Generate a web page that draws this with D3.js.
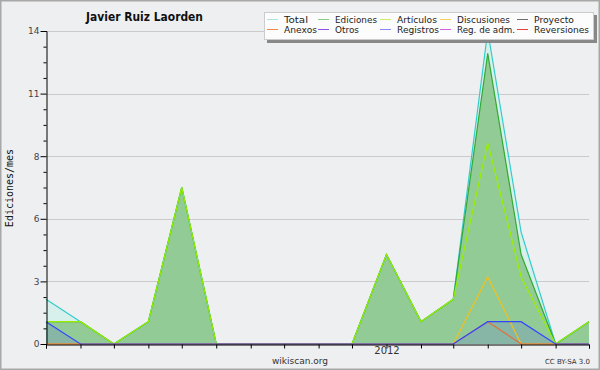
<!DOCTYPE html>
<html>
<head>
<meta charset="utf-8">
<script src="https://d3js.org/d3.v7.min.js"></script>
<style>
  body { margin: 0; background: #fff; }
  text { font-family: "DejaVu Sans", sans-serif; }
</style>
</head>
<body>
<script>
// months Mar 2011 .. Jul 2012
const months = d3.range(17).map(i => new Date(2011, 2 + i, 1));
const total       = [2, 1, 0, 1, 7, 0, 0, 0, 0, 0, 4, 1, 2, 14, 5, 0, 1];
const ediciones   = [1, 1, 0, 1, 7, 0, 0, 0, 0, 0, 4, 1, 2, 13, 4, 0, 1];
const articulos   = [1, 1, 0, 1, 7, 0, 0, 0, 0, 0, 4, 1, 2, 9, 3, 0, 1];
const discusiones = [0, 0, 0, 0, 0, 0, 0, 0, 0, 0, 0, 0, 0, 3, 0, 0, 0];
const anexos      = [0, 0, 0, 0, 0, 0, 0, 0, 0, 0, 0, 0, 0, 1, 0, 0, 0];
const registros   = [1, 0, 0, 0, 0, 0, 0, 0, 0, 0, 0, 0, 0, 1, 1, 0, 0];

const legendNames = ["Total", "Ediciones", "Artículos", "Discusiones", "Proyecto",
                     "Anexos", "Otros", "Registros", "Reg. de adm.", "Reversiones"];
const legendColors = ["#a8e4e0", "#88cc88", "#ccee66", "#f8d060", "#707070",
                      "#f08850", "#9050e0", "#8888ff", "#d060e0", "#e84040"];
const legendWidths = [24, 42, 40, 53, 40, 33, 24, 42, 58, 55];

const width = 600, height = 370;
const svg = d3.select("body").append("svg")
    .attr("width", width).attr("height", height);

svg.append("rect").attr("x", 0.5).attr("y", 0.5)
    .attr("width", width - 1).attr("height", height - 1)
    .attr("fill", "#eeeff0").attr("stroke", "#a8a8a8").attr("stroke-width", 2);

const x = d3.scaleTime().domain([months[0], months[16]]).range([46, 589]);
const y = d3.scaleLinear().domain([0, 14]).range([344, 31]);

// grid
const majors = d3.range(0, 14.01, 2.8);
svg.append("g").selectAll("line").data(majors.slice(1)).join("line")
    .attr("x1", 46).attr("x2", 589)
    .attr("y1", d => Math.round(y(d)) + 0.5).attr("y2", d => Math.round(y(d)) + 0.5)
    .attr("stroke", "#cacaca").attr("stroke-width", 1);

const line = data => d3.line().x((d, i) => x(months[i])).y(d => y(d))(data);
const area = data => d3.area().x((d, i) => x(months[i])).y0(y(0)).y1(d => y(d))(data);

svg.append("path").attr("d", area(total)).attr("fill", "#d4f0ea").attr("opacity", 0.9);
svg.append("path").attr("d", area(ediciones)).attr("fill", "#82c282").attr("opacity", 0.8);
svg.append("path").attr("d", area(registros)).attr("fill", "#4444ff").attr("opacity", 0.15);

const series = [
  [total, "#33cccc"],
  [ediciones, "#33aa33"],
  [articulos, "#99ee00"],
  [discusiones, "#f0c020"],
  [anexos, "#e07040"],
  [registros, "#3344ff"]
];
series.forEach(([d, c]) => {
  svg.append("path").attr("d", line(d)).attr("fill", "none")
     .attr("stroke", c).attr("stroke-width", 1.2);
});

// y axis
const isMajor = d => Math.abs(d / 2.8 - Math.round(d / 2.8)) < 1e-6;
const yAxis = d3.axisLeft(y).tickValues(d3.range(0, 14.01, 0.7))
    .tickSize(3)
    .tickFormat(d => isMajor(d) ? d3.format(".0f")(d) : "");
const gy = svg.append("g").attr("transform", "translate(46.5,0)").call(yAxis);
gy.select(".domain").attr("stroke", "#000");
gy.selectAll(".tick line").attr("stroke", "#000")
  .attr("x2", d => isMajor(d) ? -6 : -3);
gy.selectAll(".tick text").attr("x", -7).attr("font-size", 9).attr("fill", "#444")
  .style("font-family", "DejaVu Sans");

// x axis
const xAxis = d3.axisBottom(x).tickValues(months).tickSize(4)
    .tickFormat(d => d.getMonth() === 0 ? d.getFullYear() : "");
const gx = svg.append("g").attr("transform", "translate(0,344.5)").call(xAxis);
gx.select(".domain").attr("stroke", "#000");
gx.selectAll(".tick line").attr("stroke", "#000");
gx.selectAll(".tick text").attr("font-size", 10).attr("fill", "#333").attr("y", 2)
  .style("font-family", "DejaVu Sans");

// title and labels
svg.append("text").attr("x", 86).attr("y", 21)
    .attr("font-size", 13).attr("font-weight", "bold").attr("fill", "#111")
    .attr("textLength", 117).attr("lengthAdjust", "spacingAndGlyphs")
    .text("Javier Ruiz Laorden");
svg.append("text").attr("transform", "translate(13,188) rotate(-90)")
    .attr("text-anchor", "middle").attr("font-size", 10)
    .style("font-family", "DejaVu Sans Mono").attr("fill", "#111")
    .text("Ediciones/mes");
svg.append("text").attr("x", 300).attr("y", 364).attr("text-anchor", "middle")
    .attr("font-size", 9).attr("fill", "#333").text("wikiscan.org");
svg.append("text").attr("x", 590).attr("y", 364).attr("text-anchor", "end")
    .attr("font-size", 7).attr("fill", "#333").text("CC BY-SA 3.0");

// legend
const lg = svg.append("g");
lg.append("rect").attr("x", 267).attr("y", 15).attr("width", 330).attr("height", 28)
  .attr("fill", "#888");
lg.append("rect").attr("x", 264.5).attr("y", 12.5).attr("width", 329).attr("height", 27)
  .attr("fill", "#fcfcfc").attr("stroke", "#ccc");
const colX = [267, 318, 380, 440, 517];
legendNames.forEach((n, i) => {
  const cx = colX[i % 5], cy = i < 5 ? 19.5 : 29.5;
  lg.append("line").attr("x1", cx).attr("x2", cx + 11).attr("y1", cy).attr("y2", cy)
    .attr("stroke", legendColors[i]).attr("stroke-width", 1);
  lg.append("text").attr("x", cx + 17).attr("y", cy + 3.5).attr("font-size", 9.5)
    .attr("fill", "#222")
    .attr("textLength", legendWidths[i]).attr("lengthAdjust", "spacingAndGlyphs")
    .text(n);
});
</script>
</body>
</html>
